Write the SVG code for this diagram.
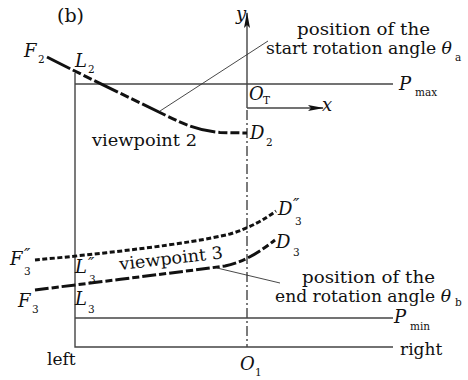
<svg xmlns="http://www.w3.org/2000/svg" width="468" height="380" viewBox="0 0 468 380">
<defs>
<style>
.t{font-family:"DejaVu Serif","Liberation Serif",serif;font-size:17px;fill:#111}
.i{font-family:"DejaVu Serif","Liberation Serif",serif;font-style:italic;font-size:18px;fill:#111}
.s{font-family:"DejaVu Serif","Liberation Serif",serif;font-size:10.5px;fill:#111}
.p{font-family:"DejaVu Serif","Liberation Serif",serif;font-style:italic;font-size:17px;fill:#111}
.fr{stroke:#444;stroke-width:1.4;fill:none}
.ld{stroke:#333;stroke-width:0.9;fill:none}
.cv{stroke:#111;stroke-width:3;fill:none}
</style>
<marker id="ah" markerWidth="16" markerHeight="8" refX="15" refY="4" orient="auto" markerUnits="userSpaceOnUse">
<path d="M0,1 L16,4 L0,7 L3,4 Z" fill="#111"/>
</marker>
</defs>
<rect width="468" height="380" fill="#fff"/>
<g id="connectors">
<path class="fr" d="M75,73 V347 H393"/>
<path class="fr" d="M75,84 H393"/>
<path class="fr" d="M75,318 H393"/>
<path class="fr" d="M247,110 V347" stroke-dasharray="10 3 2 3"/>
<path class="fr" d="M247,108 V13" stroke="#111" stroke-width="1.6" marker-end="url(#ah)"/>
<path class="fr" d="M247,108 H323" stroke="#111" stroke-width="1.6" marker-end="url(#ah)"/>
<path class="cv" d="M47,57 C70,69 130,98 165,115 C185,125 200,131 220,132.5 L247,133" stroke-dasharray="26 3 9 3 9 3"/>
<path class="cv" d="M35,260 C100,254 190,244 230,234 C250,228 265,219 276,211" stroke-dasharray="5 2.5"/>
<path class="cv" d="M35,290 C90,283 180,272 225,266 C245,262 262,250 275,240" stroke-dasharray="14 3 7 3"/>
<path class="ld" d="M160,111 L268,41"/>
<path class="ld" d="M217,268 L280,283"/>
</g>
<g id="title"><text class="t" x="57" y="22" style="font-size:19px">(b)</text></g>
<g id="axis-y"><text class="i" x="236" y="20">y</text></g>
<g id="axis-x"><text class="i" x="322" y="111">x</text></g>
<g id="origin-T"><text class="i" x="249" y="100">O</text><text class="s" x="263" y="104">T</text></g>
<g id="pmax"><text class="i" x="399" y="90">P</text><text class="s" x="415" y="96">max</text></g>
<g id="pmin"><text class="i" x="394" y="323">P</text><text class="s" x="410" y="330">min</text></g>
<g id="F2"><text class="i" x="24" y="57">F</text><text class="s" x="38" y="63">2</text></g>
<g id="L2"><text class="i" x="75" y="67">L</text><text class="s" x="88" y="73">2</text></g>
<g id="D2"><text class="i" x="250" y="139">D</text><text class="s" x="266" y="146">2</text></g>
<g id="viewpoint2"><text class="t" x="92" y="146" textLength="105" lengthAdjust="spacingAndGlyphs">viewpoint 2</text></g>
<g id="start-angle">
<text class="t" x="297" y="35" textLength="133" lengthAdjust="spacingAndGlyphs">position of the</text>
<text class="t" x="266" y="54" textLength="186" lengthAdjust="spacingAndGlyphs">start rotation angle <tspan font-style="italic">θ</tspan></text>
<text class="s" x="455" y="61">a</text>
</g>
<g id="F3pp"><text class="i" x="10" y="265">F</text><text class="p" x="24" y="260">″</text><text class="s" x="24" y="275">3</text></g>
<g id="F3"><text class="i" x="18" y="307">F</text><text class="s" x="32" y="313">3</text></g>
<g id="L3pp"><text class="i" x="75" y="273">L</text><text class="p" x="88" y="269">″</text><text class="s" x="89" y="283">3</text></g>
<g id="L3"><text class="i" x="75" y="305">L</text><text class="s" x="88" y="313">3</text></g>
<g id="D3pp"><text class="i" x="278" y="215">D</text><text class="p" x="293" y="210">″</text><text class="s" x="295" y="225">3</text></g>
<g id="D3"><text class="i" x="276" y="248">D</text><text class="s" x="293" y="256">3</text></g>
<g id="viewpoint3"><text class="t" x="120" y="270" transform="rotate(-6.5 120 270)" textLength="104" lengthAdjust="spacingAndGlyphs">viewpoint 3</text></g>
<g id="end-angle">
<text class="t" x="302" y="283" textLength="133" lengthAdjust="spacingAndGlyphs">position of the</text>
<text class="t" x="275" y="302" textLength="176" lengthAdjust="spacingAndGlyphs">end rotation angle <tspan font-style="italic">θ</tspan></text>
<text class="s" x="455" y="306">b</text>
</g>
<g id="left"><text class="t" x="47" y="365">left</text></g>
<g id="right"><text class="t" x="400" y="355">right</text></g>
<g id="O1"><text class="i" x="240" y="370">O</text><text class="s" x="255" y="376">1</text></g>
</svg>
